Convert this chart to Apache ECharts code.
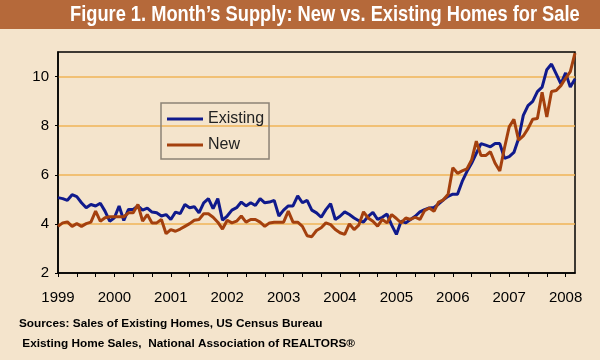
<!DOCTYPE html>
<html>
<head>
<meta charset="utf-8">
<script src="https://cdn.jsdelivr.net/npm/echarts@6/dist/echarts.min.js"></script>
<style>
html,body{margin:0;padding:0;background:#F4E4CC;}
#chart{width:600px;height:360px;}
</style>
</head>
<body>
<div id="chart"></div>
<script>
var years = ['1999','2000','2001','2002','2003','2004','2005','2006','2007','2008'];
var monthCount = 111; // Jan 1999 .. Mar 2008
var existing = [
5.07,5.03,4.96,5.19,5.11,4.86,4.66,4.79,4.73,4.84,4.52,4.11,
4.25,4.73,4.14,4.59,4.59,4.73,4.56,4.64,4.48,4.45,4.32,4.38,
4.18,4.48,4.42,4.79,4.66,4.70,4.45,4.86,5.03,4.62,5.03,4.15,
4.32,4.56,4.66,4.89,4.73,4.86,4.75,5.03,4.86,4.89,4.96,4.32,
4.56,4.73,4.73,5.14,4.86,4.96,4.56,4.45,4.27,4.58,4.82,4.18,
4.31,4.49,4.38,4.24,4.13,4.08,4.31,4.47,4.18,4.27,4.40,3.95,
3.57,4.11,4.04,4.18,4.31,4.49,4.58,4.65,4.67,4.81,4.98,5.12,
5.21,5.21,5.73,6.13,6.47,6.87,7.27,7.21,7.14,7.27,7.27,6.67,
6.74,6.91,7.48,8.42,8.82,8.99,9.39,9.57,10.28,10.51,10.11,9.70,
10.15,9.57,9.90
];
var newHomes = [
3.90,4.04,4.08,3.90,4.01,3.90,4.01,4.07,4.52,4.11,4.25,4.29,
4.29,4.29,4.29,4.45,4.45,4.79,4.11,4.38,4.04,4.04,4.18,3.60,
3.77,3.70,3.79,3.90,4.01,4.15,4.18,4.41,4.41,4.27,4.07,3.79,
4.15,4.04,4.11,4.32,4.07,4.18,4.18,4.07,3.90,4.04,4.07,4.07,
4.07,4.52,4.07,4.07,3.90,3.52,3.48,3.73,3.84,4.04,3.97,3.77,
3.64,3.57,4.00,3.77,3.95,4.49,4.24,4.11,3.91,4.18,4.04,4.38,
4.22,4.04,4.24,4.18,4.27,4.18,4.54,4.65,4.51,4.89,4.98,5.21,
6.29,6.06,6.16,6.24,6.60,7.37,6.78,6.78,6.94,6.47,6.16,7.10,
7.95,8.26,7.41,7.58,7.88,8.26,8.29,9.36,8.35,9.39,9.43,9.63,
9.93,10.20,10.95
];
var yTicks = [2,4,6,8,10];
var titleText = 'Figure 1. Month\u2019s Supply: New vs. Existing Homes for Sale';
var sourceLines = ['Sources: Sales of Existing Homes, US Census Bureau', ' Existing Home Sales,  National Association of REALTORS\u00AE'];

var months = [];
years.forEach(function(y){ for (var m=1;m<=12;m++){ months.push(y + '-' + (m<10?'0':'') + m); } });
months = months.slice(0, monthCount);

var chart = echarts.init(document.getElementById('chart'), null, {renderer:'canvas'});
var font = 'Liberation Sans, Arial, sans-serif';
chart.setOption({
  backgroundColor: '#F4E4CC',
  animation: false,
  graphic: [{
    type: 'rect', left: 0, top: 0, z: -1,
    shape: {width: 600, height: 29},
    style: {fill: '#B5693A'}
  }, {
    type: 'text', x: 70, y: 15, scaleX: 0.83, z: 5,
    style: {text: titleText, fill: '#FFFFFF', font: 'bold 22px Liberation Sans, Arial, sans-serif',
      verticalAlign: 'middle', align: 'left'}
  }],
  title: [{
    text: sourceLines.join('\n'),
    left: 19, top: 314, padding: 0,
    textStyle: {color: '#000', fontSize: 11.8, fontWeight: 'bold', fontFamily: font, lineHeight: 20}
  }],
  legend: {
    orient: 'vertical',
    left: 161, top: 103,
    padding: [8, 5, 6, 6],
    itemGap: 10,
    icon: 'rect',
    itemWidth: 36, itemHeight: 3,
    borderColor: '#8C8276', borderWidth: 1.5,
    textStyle: {fontSize: 16, color: '#222', fontFamily: font, lineHeight: 16},
    data: ['Existing', 'New']
  },
  grid: {
    left: 58, top: 52, width: 517, height: 221,
    show: true, borderColor: '#000', borderWidth: 1.5, backgroundColor: 'transparent'
  },
  xAxis: {
    type: 'category',
    data: months,
    boundaryGap: false,
    axisLine: {lineStyle: {color: '#000', width: 1.5}},
    axisTick: {interval: 3, length: 4, lineStyle: {color: '#000', width: 1}},
    axisLabel: {
      interval: 11, margin: 17, fontSize: 15, color: '#000', fontFamily: font,
      formatter: function(v){ return v.slice(0,4); }
    },
    splitLine: {show: false}
  },
  yAxis: {
    type: 'value', min: 2, max: 11, interval: 2,
    axisLine: {show: true, lineStyle: {color: '#000', width: 1.5}},
    axisTick: {show: true, length: 3, lineStyle: {color: '#000'}},
    axisLabel: {fontSize: 15, color: '#000', margin: 9, fontFamily: font, showMaxLabel: false,
      formatter: function(v){ return yTicks.indexOf(v) >= 0 ? String(v) : ''; }},
    splitLine: {show: true, showMinLine: false, showMaxLine: false, lineStyle: {color: '#F0B457', width: 1.5}}
  },
  series: [{
    name: 'Existing', type: 'line', data: existing, symbol: 'none',
    lineStyle: {color: '#101A8C', width: 3}, itemStyle: {color: '#101A8C'}, z: 3
  }, {
    name: 'New', type: 'line', data: newHomes, symbol: 'none',
    lineStyle: {color: '#A4400E', width: 3}, itemStyle: {color: '#A4400E'}, z: 4
  }]
});
</script>
</body>
</html>
